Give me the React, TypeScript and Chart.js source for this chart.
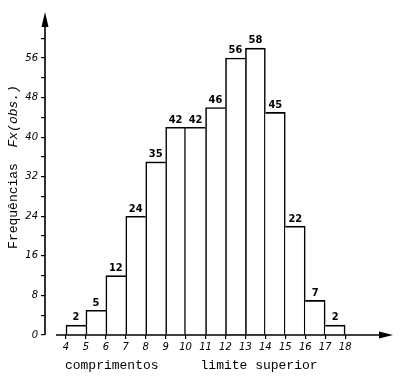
import React, { useEffect, useRef } from "react";
import { Chart, registerables } from "chart.js";

Chart.register(...registerables);

const binStarts = [4, 5, 6, 7, 8, 9, 10, 11, 12, 13, 14, 15, 16, 17];
const frequencies = [2, 5, 12, 24, 35, 42, 42, 46, 56, 58, 45, 22, 7, 2];
const xTickMin = 4;
const xTickMax = 18;
const yLabelStep = 8;
const yLabelMax = 56;
const yTickMax = 60;
const yTitleMain = "Frequências";
const yTitleItalic = "Fx(obs.)";
const xTitleLeft = "comprimentos";
const xTitleRight = "limite superior";

const X_MIN = 2.95;
const X_MAX = 20.4;
const Y_MAX = 65.3;
const BW = 1.6;

// each shared edge is drawn once, by the taller of the two neighbouring bars
const borderWidths = frequencies.map((v, i) => {
  const prev = i > 0 ? frequencies[i - 1] : -1;
  const next = i < frequencies.length - 1 ? frequencies[i + 1] : -1;
  return {
    top: BW,
    bottom: 0,
    left: v > prev || i === 0 ? BW : 0,
    right: v >= next || i === frequencies.length - 1 ? BW : 0,
  };
});

const decorPlugin = {
  id: "decor",
  afterDatasetsDraw(chart: any) {
    const ctx = chart.ctx;
    const xs = chart.scales.x;
    const ys = chart.scales.y;
    ctx.save();
    const meta = chart.getDatasetMeta(0);
    ctx.fillStyle = "#000";
    ctx.font = "bold 11px 'DejaVu Sans Condensed', 'DejaVu Sans', sans-serif";
    ctx.textAlign = "center";
    ctx.textBaseline = "bottom";
    meta.data.forEach((el: any, i: number) => {
      ctx.fillText(String(frequencies[i]), el.x, el.y - 2);
    });

    ctx.strokeStyle = "#000";
    ctx.lineWidth = 1.6;
    const x0 = xs.getPixelForValue(X_MIN);
    const yBottom = ys.getPixelForValue(0);
    const yTop = ys.getPixelForValue(Y_MAX);
    ctx.beginPath();
    ctx.moveTo(x0, yBottom);
    ctx.lineTo(x0, yTop + 6);
    ctx.stroke();
    ctx.beginPath();
    ctx.moveTo(x0, yTop);
    ctx.lineTo(x0 - 3.5, yTop + 15);
    ctx.lineTo(x0 + 3.5, yTop + 15);
    ctx.closePath();
    ctx.fill();

    const xStart = xs.getPixelForValue(binStarts[0] - 0.5);
    const xEnd = xs.getPixelForValue(X_MAX);
    ctx.beginPath();
    ctx.moveTo(xStart, yBottom);
    ctx.lineTo(xEnd - 6, yBottom);
    ctx.stroke();
    ctx.beginPath();
    ctx.moveTo(xEnd, yBottom);
    ctx.lineTo(xEnd - 14, yBottom - 3.5);
    ctx.lineTo(xEnd - 14, yBottom + 3.5);
    ctx.closePath();
    ctx.fill();

    ctx.font = "13px 'Liberation Mono', monospace";
    ctx.textAlign = "left";
    ctx.textBaseline = "middle";
    ctx.fillText(xTitleLeft, xs.getPixelForValue(4) - 1, 366);
    ctx.fillText(xTitleRight, xs.getPixelForValue(10.75), 366);

    ctx.translate(14, 167);
    ctx.rotate(-Math.PI / 2);
    const fMain = "13px 'Liberation Mono', monospace";
    const fItal = "italic 13px 'Liberation Mono', monospace";
    ctx.font = fMain;
    const w1 = ctx.measureText(yTitleMain + "  ").width;
    ctx.font = fItal;
    const w2 = ctx.measureText(yTitleItalic).width;
    const start = -(w1 + w2) / 2;
    ctx.font = fMain;
    ctx.fillText(yTitleMain, start, 0);
    ctx.font = fItal;
    ctx.fillText(yTitleItalic, start + w1, 0);
    ctx.restore();
  },
};

export default function App() {
  const ref = useRef<HTMLCanvasElement | null>(null);
  useEffect(() => {
    if (!ref.current) return;
    const chart = new Chart(ref.current, {
      type: "bar",
      data: {
        datasets: [
          {
            data: binStarts.map((b, i) => ({ x: b + 0.5, y: frequencies[i] })),
            backgroundColor: "#fff",
            borderColor: "#000",
            borderWidth: borderWidths,
            borderSkipped: false,
            barPercentage: 1,
            categoryPercentage: 1,
          } as any,
        ],
      },
      plugins: [decorPlugin],
      options: {
        animation: false,
        responsive: false,
        maintainAspectRatio: false,
        layout: { padding: { top: 12, right: 7, left: 0, bottom: 0 } },
        plugins: { legend: { display: false }, tooltip: { enabled: false } },
        scales: {
          x: {
            type: "linear",
            min: X_MIN,
            max: X_MAX,
            offset: false,
            border: { display: false },
            grid: {
              offset: false,
              drawOnChartArea: false,
              drawTicks: true,
              tickLength: 4,
              lineWidth: 1.2,
              color: (c: any) =>
                c.tick && c.tick.value >= xTickMin && c.tick.value <= xTickMax ? "#000" : "rgba(0,0,0,0)",
            },
            ticks: {
              stepSize: 1,
              includeBounds: false,
              autoSkip: false,
              maxRotation: 0,
              padding: 2,
              color: "#000",
              font: { family: "'DejaVu Sans', sans-serif", size: 10, style: "italic" },
              callback: (v: any) => (v >= xTickMin && v <= xTickMax && Number.isInteger(v) ? String(v) : ""),
            },
            afterFit: (s: any) => {
              s.height = 43;
            },
          } as any,
          y: {
            type: "linear",
            min: 0,
            max: Y_MAX,
            border: { display: false },
            grid: {
              drawOnChartArea: false,
              drawTicks: true,
              tickLength: 4,
              lineWidth: 1.2,
              color: (c: any) => (c.tick && c.tick.value <= yTickMax ? "#000" : "rgba(0,0,0,0)"),
            },
            ticks: {
              stepSize: 4,
              includeBounds: false,
              autoSkip: false,
              padding: 3,
              color: "#000",
              font: { family: "'DejaVu Sans', sans-serif", size: 10, style: "italic" },
              callback: (v: any) => (v % yLabelStep === 0 && v <= yLabelMax ? String(v) : ""),
            },
            afterFit: (s: any) => {
              s.width = 45;
            },
          } as any,
        },
      },
    });
    return () => chart.destroy();
  }, []);
  return (
    <div style={{ position: "fixed", left: 0, top: 0, width: 400, height: 378, background: "#fff" }}>
      <canvas ref={ref} width={400} height={378} style={{ display: "block" }} />
    </div>
  );
}
